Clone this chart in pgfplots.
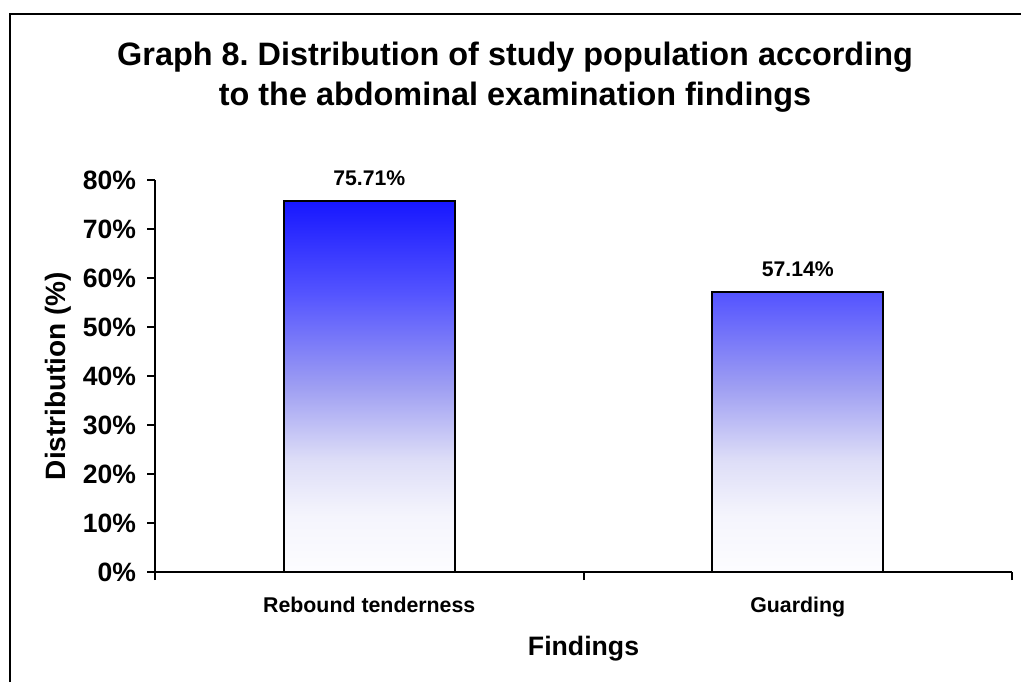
\documentclass[border=0pt]{standalone}
\usepackage{pgfplots}
\pgfplotsset{compat=1.18}
\usepackage{fontspec}
\setmainfont{Liberation Sans}
\frenchspacing
\definecolor{g0}{rgb}{0.99,0.99,1}
\definecolor{g1}{rgb}{0.96,0.96,0.99}
\definecolor{g2}{rgb}{0.87,0.87,0.97}
\definecolor{g3}{rgb}{0.62,0.62,0.95}
\definecolor{g4}{rgb}{0.33,0.33,1}
\definecolor{g5}{rgb}{0.09,0.09,1}
\pgfdeclareverticalshading{barfade}{100bp}{color(0bp)=(g0); color(25bp)=(g0); color(32.5bp)=(g1); color(40bp)=(g2); color(50bp)=(g3); color(62.5bp)=(g4); color(75bp)=(g5); color(100bp)=(g5)}
\begin{document}
\begin{tikzpicture}
\path[use as bounding box] (0,0) rectangle (765.75pt,511.5pt);
\draw[line width=1.6pt] (7.5pt,0) -- (7.5pt,501pt) -- (765.75pt,501pt);
\begin{axis}[
  at={(116.25pt,82.5pt)}, anchor=south west,
  scale only axis, width=642.75pt, height=294pt,
  xmin=-0.5, xmax=1.5, ymin=0, ymax=80,
  axis x line*=bottom, axis y line*=left,
  axis line style={line width=1.5pt},
  xtick={0,1}, xticklabels={Rebound tenderness, Guarding},
  minor xtick={-0.5,0.5,1.5},
  major x tick style={draw=none},
  minor x tick style={black, line width=1.5pt},
  minor tick length=6pt,
  ytick={0,10,...,80},
  yticklabels={0\%,10\%,20\%,30\%,40\%,50\%,60\%,70\%,80\%},
  major y tick style={black, line width=1.5pt},
  major tick length=6pt,
  tick align=outside,
  yticklabel style={font=\bfseries\fontsize{19.9}{24}\selectfont, inner sep=0pt, xshift=-8pt},
  xticklabel style={font=\bfseries\fontsize{16}{19}\selectfont, anchor=base, inner sep=0pt, yshift=-24pt},
  xlabel={Findings},
  xlabel style={at={([yshift=-62.25pt]axis description cs:0.5,0)}, anchor=base, font=\bfseries\fontsize{20}{24}\selectfont, inner sep=0pt},
  ylabel={Distribution (\%)},
  ylabel style={at={([xshift=-66.75pt]axis description cs:0,0.5)}, anchor=base, font=\bfseries\fontsize{21}{25}\selectfont, inner sep=0pt},
  ybar, bar width=0.4,
  point meta=explicit symbolic,
  nodes near coords,
  nodes near coords style={font=\bfseries\fontsize{15.9}{19}\selectfont, anchor=base, inner sep=0pt, yshift=12pt, text=black},
  clip=false,
]
\addplot[draw=black, line width=1.5pt, shading=barfade] coordinates {(0,75.71) [75.71\%] (1,57.14) [57.14\%]};
\end{axis}
\node[anchor=base, font=\bfseries\fontsize{24.3}{30}\selectfont] at (386.25pt,462pt) {Graph 8. Distribution of study population according};
\node[anchor=base, font=\bfseries\fontsize{24.3}{30}\selectfont] at (386.25pt,432pt) {to the abdominal examination findings};
\end{tikzpicture}
\end{document}
